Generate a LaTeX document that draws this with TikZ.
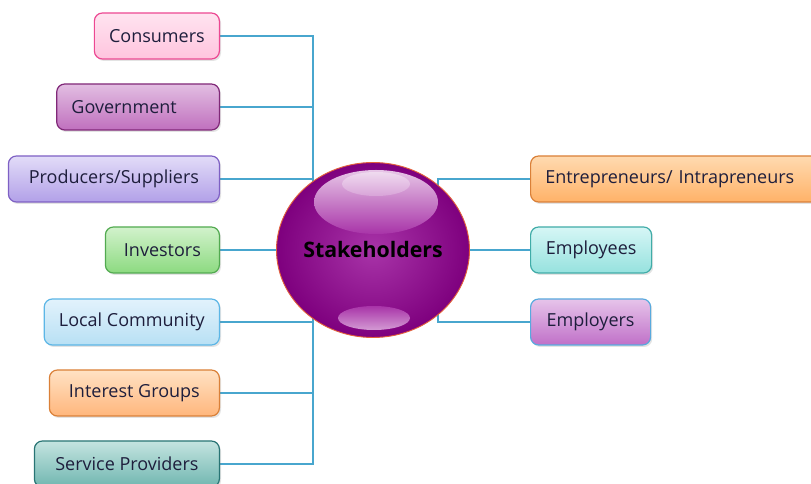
\documentclass[tikz,border=0pt]{standalone}
\usepackage{fontspec}
\setmainfont{Open Sans}
\usepackage{xcolor}
\usepackage{tikz}
\usetikzlibrary{shapes.geometric,shadows,backgrounds}
\definecolor{linkblue}{RGB}{72,166,206}
\definecolor{textnavy}{RGB}{30,30,60}
\definecolor{ballrim}{RGB}{226,96,60}
\definecolor{ballmid}{RGB}{168,52,168}
\definecolor{balledge}{RGB}{126,0,126}
\definecolor{consTop}{RGB}{255,228,240}
\definecolor{consBot}{RGB}{255,196,222}
\definecolor{consEdge}{RGB}{236,72,146}
\definecolor{govTop}{RGB}{226,190,226}
\definecolor{govBot}{RGB}{192,112,190}
\definecolor{govEdge}{RGB}{128,40,120}
\definecolor{prodTop}{RGB}{226,220,248}
\definecolor{prodBot}{RGB}{178,160,232}
\definecolor{prodEdge}{RGB}{126,96,196}
\definecolor{invTop}{RGB}{210,242,204}
\definecolor{invBot}{RGB}{140,218,128}
\definecolor{invEdge}{RGB}{82,170,80}
\definecolor{locTop}{RGB}{226,242,252}
\definecolor{locBot}{RGB}{184,224,244}
\definecolor{locEdge}{RGB}{92,182,230}
\definecolor{intTop}{RGB}{255,226,196}
\definecolor{intBot}{RGB}{255,182,124}
\definecolor{intEdge}{RGB}{218,128,56}
\definecolor{servTop}{RGB}{196,228,224}
\definecolor{servBot}{RGB}{112,182,176}
\definecolor{servEdge}{RGB}{40,116,116}
\definecolor{entTop}{RGB}{255,218,176}
\definecolor{entBot}{RGB}{255,178,104}
\definecolor{entEdge}{RGB}{218,128,56}
\definecolor{empsTop}{RGB}{214,246,246}
\definecolor{empsBot}{RGB}{150,226,222}
\definecolor{empsEdge}{RGB}{64,172,168}
\definecolor{emprTop}{RGB}{230,196,234}
\definecolor{emprBot}{RGB}{192,112,200}
\definecolor{emprEdge}{RGB}{88,170,222}

\begin{document}
\begin{tikzpicture}[
  x=0.75pt, y=-0.75pt,
  stake/.style={draw, rounded corners=6pt, minimum height=34.5pt, inner xsep=11pt, line width=0.9pt,
    font=\fontsize{13.5}{16}\selectfont, text=textnavy,
    drop shadow={shadow xshift=1.2pt, shadow yshift=-1.5pt, opacity=0.22}},
  link/.style={draw=linkblue, line width=1.1pt},
  hub/.style={ellipse, minimum width=144.75pt, minimum height=131.25pt, inner color=ballmid, outer color=balledge,
    draw=ballrim, line width=0.7pt, font=\bfseries\fontsize{16}{18}\selectfont}
]
\useasboundingbox (0,0) rectangle (811,484);

\node[hub] (hub) at (373,250) {};
% glossy highlights on the ball
\shade[top color=white!72!ballmid, bottom color=ballmid] ([shift={(3,-48)}]hub.center) ellipse [x radius=62, y radius=32];
\shade[top color=white!82!ballmid, bottom color=white!55!ballmid] ([shift={(3,-66)}]hub.center) ellipse [x radius=34, y radius=12];
\shade[top color=ballmid, bottom color=white!50!ballmid] ([shift={(1,68)}]hub.center) ellipse [x radius=36, y radius=12];
\node[font=\bfseries\fontsize{16}{18}\selectfont] (hubtxt) at (hub.center) {Stakeholders};

% left side
\node[stake, anchor=east, minimum width=92.25pt, top color=consTop, bottom color=consBot, draw=consEdge] (cons) at (220,36) {Consumers};
\node[stake, anchor=east, text width=100pt, align=left, top color=govTop, bottom color=govBot, draw=govEdge] (gov) at (220,107) {Government};
\node[stake, anchor=east, minimum width=158.25pt, top color=prodTop, bottom color=prodBot, draw=prodEdge] (prod) at (220,179) {Producers/Suppliers};
\node[stake, anchor=east, minimum width=85.5pt, top color=invTop, bottom color=invBot, draw=invEdge] (inv) at (220,250) {Investors};
\node[stake, anchor=east, minimum width=130.5pt, top color=locTop, bottom color=locBot, draw=locEdge] (loc) at (220,322) {Local Community};
\node[stake, anchor=east, minimum width=127.5pt, top color=intTop, bottom color=intBot, draw=intEdge] (intg) at (220,393) {Interest Groups};
\node[stake, anchor=east, minimum width=138.75pt, top color=servTop, bottom color=servBot, draw=servEdge] (serv) at (220,464) {Service Providers};

% right side
\node[stake, anchor=west, text width=205pt, align=left, top color=entTop, bottom color=entBot, draw=entEdge] (entre) at (530,179) {Entrepreneurs/ Intrapreneurs};
\node[stake, anchor=west, minimum width=90.75pt, top color=empsTop, bottom color=empsBot, draw=empsEdge] (emps) at (530,250) {Employees};
\node[stake, anchor=west, minimum width=90pt, top color=emprTop, bottom color=emprBot, draw=emprEdge] (empr) at (530,322) {Employers};

\coordinate (lbus) at (313,250);
\coordinate (rbus) at (438,250);

\begin{scope}[on background layer]
  \draw[link] (cons.east) -| (lbus);
  \draw[link] (gov.east) -| (lbus);
  \draw[link] (prod.east) -| (lbus);
  \draw[link] (inv.east) -- (hub);
  \draw[link] (loc.east) -| (lbus);
  \draw[link] (intg.east) -| (lbus);
  \draw[link] (serv.east) -| (lbus);
  \draw[link] (entre.west) -| (rbus);
  \draw[link] (emps.west) -- (hub);
  \draw[link] (empr.west) -| (rbus);
\end{scope}
\end{tikzpicture}
\end{document}
